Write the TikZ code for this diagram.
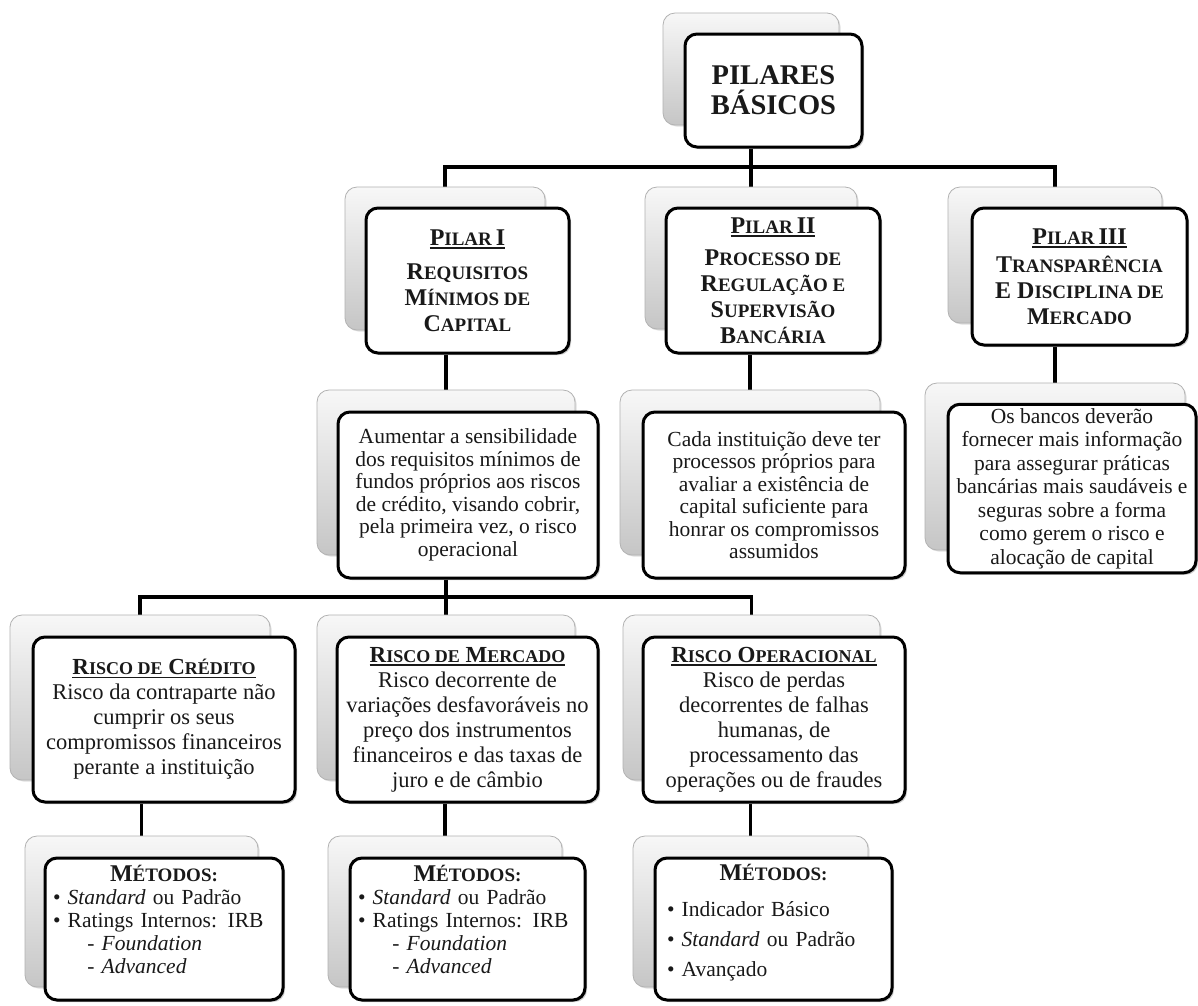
\documentclass[tikz,border=0pt]{standalone}
\usepackage{fontspec}
\setmainfont{Liberation Serif}
\usetikzlibrary{shadows,backgrounds}
\newcommand\fsc[2][19]{{\fontsize{#1}{#1}\selectfont #2}}
\newcommand\ulbox[1]{\setbox0=\hbox{#1}\rlap{\rule[-3.5pt]{\wd0}{1.5pt}}\box0}
\tikzset{
  backbox/.style={rounded corners=12pt, draw=gray!60, line width=0.8pt,
    top color=gray!6, bottom color=gray!45,
    drop shadow={shadow xshift=1.5pt, shadow yshift=-1.5pt, opacity=0.25}},
  frontbox/.style={rounded corners=12pt, draw=black, line width=3pt, fill=white,
    align=center, inner sep=4pt, text=black!90,
    drop shadow={shadow xshift=2pt, shadow yshift=-2pt, opacity=0.4}},
  conn/.style={draw=black, line width=3.2pt},
  ptitle/.style={font=\fontsize{24}{26}\selectfont\bfseries},
  dtext/.style={font=\fontsize{21.5}{22.5}\selectfont},
  rtext/.style={font=\fontsize{22.5}{25}\selectfont},
  mtext/.style={align=left, inner xsep=8pt, inner ysep=2pt}
}
\newcommand\rtitle[1]{{\bfseries\fontsize{23}{25}\selectfont\ulbox{#1}}}
\newcommand\mtitle{{\centering\bfseries\fontsize{24}{24}\selectfont M\fsc{ÉTODOS:}\par}}
\begin{document}
\begin{tikzpicture}[x=1pt,y=-1pt]
\useasboundingbox (0,0) rectangle (1198,1005);

% top
\node[backbox, minimum width=176pt, minimum height=112pt] (topb) at (751,69) {};
\node[frontbox, font=\fontsize{28.5}{30}\selectfont\bfseries, minimum width=177pt, minimum height=113pt] (top) at (773.5,90.5) {PILARES\\BÁSICOS};

% pillars
\node[backbox, minimum width=200pt, minimum height=143pt] (p1b) at (445,258.5) {};
\node[frontbox, ptitle, minimum width=203pt, minimum height=145pt] (p1) at (467.5,280.5)
  {\ulbox{P\fsc{ILAR}\,I}\\[8pt]R\fsc{EQUISITOS}\\M\fsc{ÍNIMOS DE}\\C\fsc{APITAL}};

\node[backbox, minimum width=212pt, minimum height=142pt] (p2b) at (751,258) {};
\node[frontbox, ptitle, minimum width=214pt, minimum height=145pt] (p2) at (773,280.5)
  {\ulbox{P\fsc{ILAR}\,II}\\[6pt]P\fsc{ROCESSO DE}\\R\fsc{EGULAÇÃO E}\\S\fsc{UPERVISÃO}\\B\fsc{ANCÁRIA}};

\node[backbox, minimum width=214pt, minimum height=136pt] (p3b) at (1055,255) {};
\node[frontbox, ptitle, minimum width=215pt, minimum height=137pt] (p3) at (1079.5,276.5)
  {\ulbox{P\fsc{ILAR}\,III}\\[2pt]T\fsc{RANSPARÊNCIA}\\E D\fsc{ISCIPLINA DE}\\M\fsc{ERCADO}};

% descriptions
\node[backbox, minimum width=258pt, minimum height=165pt] (d1b) at (446,472.5) {};
\node[frontbox, dtext, minimum width=260pt, minimum height=166pt] (d1) at (468,495)
  {Aumentar a sensibilidade\\dos requisitos mínimos de\\fundos próprios aos riscos\\de crédito, visando cobrir,\\pela primeira vez, o risco\\operacional};

\node[backbox, minimum width=260pt, minimum height=165pt] (d2b) at (750,472.5) {};
\node[frontbox, dtext, minimum width=262pt, minimum height=166pt] (d2) at (774,495)
  {Cada instituição deve ter\\processos próprios para\\avaliar a existência de\\capital suficiente para\\honrar os compromissos\\assumidos};

\node[backbox, minimum width=260pt, minimum height=167pt] (d3b) at (1055,466.5) {};
\node[frontbox, font=\fontsize{21.5}{23.5}\selectfont, minimum width=248pt, minimum height=167pt] (d3) at (1072,488.5)
  {Os bancos deverão\\fornecer mais informação\\para assegurar práticas\\bancárias mais saudáveis e\\seguras sobre a forma\\como gerem o risco e\\alocação de capital};

% risks
\node[backbox, minimum width=260pt, minimum height=165pt] (r1b) at (140,697.5) {};
\node[frontbox, rtext, minimum width=262pt, minimum height=165pt] (r1) at (164,719.5)
  {\rtitle{R\fsc[18]{ISCO DE} C\fsc[18]{RÉDITO}}\\Risco da contraparte não\\cumprir os seus\\compromissos financeiros\\perante a instituição};

\node[backbox, minimum width=258pt, minimum height=165pt] (r2b) at (446,697.5) {};
\node[frontbox, rtext, minimum width=261pt, minimum height=165pt] (r2) at (467.5,719.5)
  {\rtitle{R\fsc[18]{ISCO DE} M\fsc[18]{ERCADO}}\\Risco decorrente de\\variações desfavoráveis no\\preço dos instrumentos\\financeiros e das taxas de\\juro e de câmbio};

\node[backbox, minimum width=257pt, minimum height=165pt] (r3b) at (751.5,697.5) {};
\node[frontbox, rtext, minimum width=262pt, minimum height=165pt] (r3) at (774,719.5)
  {\rtitle{R\fsc[18]{ISCO} O\fsc[18]{PERACIONAL}}\\Risco de perdas\\decorrentes de falhas\\humanas, de\\processamento das\\operações ou de fraudes};

% methods
\node[backbox, minimum width=233pt, minimum height=151pt] (m1b) at (141.5,911.5) {};
\node[frontbox, mtext, font=\fontsize{21.5}{23}\selectfont, minimum width=238pt, minimum height=142pt, text width=222pt] (m1) at (164,929)
  {\mtitle • \textit{Standard} ou Padrão\\• Ratings Internos: IRB\\\hspace*{1.6em}- \textit{Foundation}\\\hspace*{1.6em}- \textit{Advanced}\par\vspace*{20pt}};

\node[backbox, minimum width=234pt, minimum height=151pt] (m2b) at (445,911.5) {};
\node[frontbox, mtext, font=\fontsize{21.5}{23}\selectfont, minimum width=235pt, minimum height=142pt, text width=219pt] (m2) at (467.5,929)
  {\mtitle • \textit{Standard} ou Padrão\\• Ratings Internos: IRB\\\hspace*{1.6em}- \textit{Foundation}\\\hspace*{1.6em}- \textit{Advanced}\par\vspace*{20pt}};

\node[backbox, minimum width=235pt, minimum height=151pt] (m3b) at (750.5,911.5) {};
\node[frontbox, mtext, font=\fontsize{21.5}{30}\selectfont, minimum width=237pt, minimum height=142pt, text width=213pt, inner xsep=12pt] (m3) at (773.5,929)
  {\mtitle\vspace{6pt}• Indicador Básico\\• \textit{Standard} ou Padrão\\• Avançado\par\vspace*{12pt}};

\coordinate (bus1) at (751,167);
\coordinate (bus2) at (446,597);

\begin{pgfonlayer}{background}
\fill[white] (0,0) rectangle (1198,1005);
\draw[conn] (topb.north |- top.south) -- (bus1);
\draw[conn] (p1b.north) |- (bus1) -| (p3b.north);
\draw[conn] (p2b.north) -- (p2b.north |- bus1);
\draw[conn] (d1b.north) -- (d1b.north |- p1.south);
\draw[conn] (d2b.north) -- (d2b.north |- p2.south);
\draw[conn] (d3b.north) -- (d3b.north |- p3.south);
\draw[conn] (d1b.north |- d1.south) -- (bus2);
\draw[conn] (r1b.north) |- (bus2) -| (r3b.north);
\draw[conn] (r2b.north) -- (r2b.north |- bus2);
\draw[conn] (m1b.north) -- (m1b.north |- r1.south);
\draw[conn] (m2b.north) -- (m2b.north |- r2.south);
\draw[conn] (m3b.north) -- (m3b.north |- r3.south);
\end{pgfonlayer}
\end{tikzpicture}
\end{document}
